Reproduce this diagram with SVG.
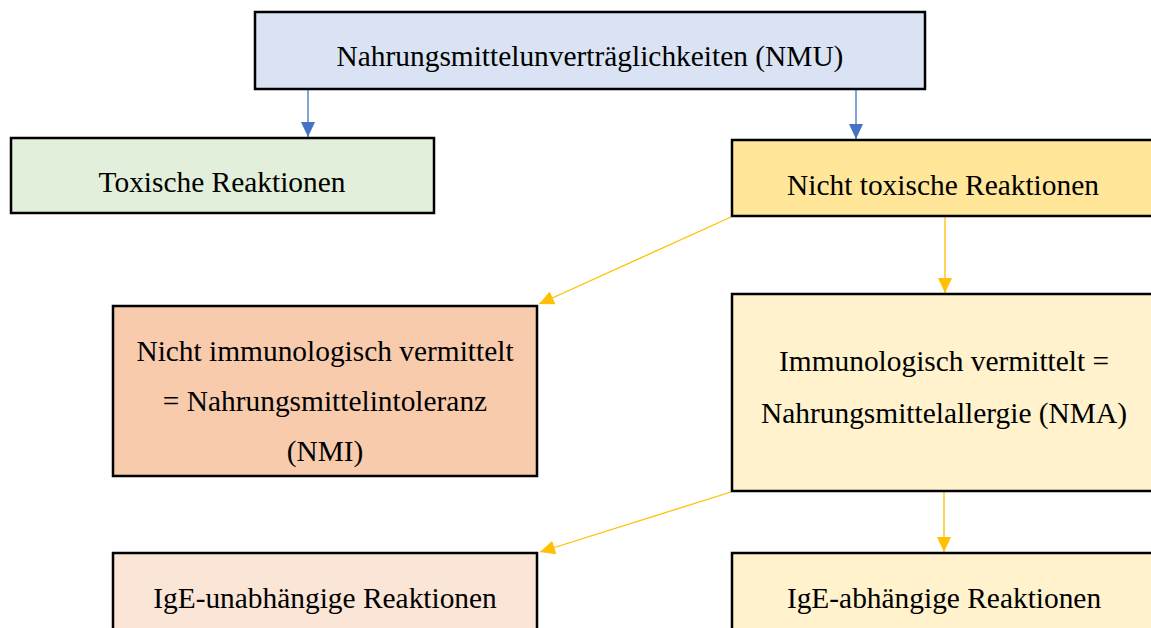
<svg xmlns="http://www.w3.org/2000/svg" width="1151" height="628" viewBox="0 0 1151 628">
<style>
.box{stroke:#000;stroke-width:2.5}
.t{font-family:"Liberation Serif","Times New Roman",serif;font-size:29.4px;fill:#000;text-anchor:middle}
.cb{stroke:#4472C4;stroke-width:1.3;fill:none}
.cy{stroke:#FFC000;stroke-width:1.3;fill:none}
</style>
<defs>
<marker id="ab" markerUnits="userSpaceOnUse" markerWidth="15" markerHeight="14" refX="15" refY="7" orient="auto"><path d="M0,0 L15,7 L0,14 z" fill="#4472C4"/></marker>
<marker id="ay" markerUnits="userSpaceOnUse" markerWidth="15" markerHeight="14" refX="15" refY="7" orient="auto"><path d="M0,0 L15,7 L0,14 z" fill="#FFC000"/></marker>
</defs>
<rect width="1151" height="628" fill="#fff"/>
<g id="connectors">
<line class="cb" x1="308" y1="89" x2="308" y2="137" marker-end="url(#ab)"/>
<line class="cb" x1="856" y1="89" x2="856" y2="139" marker-end="url(#ab)"/>
<line class="cy" x1="731" y1="217" x2="539" y2="304" marker-end="url(#ay)"/>
<line class="cy" x1="945" y1="217" x2="945" y2="293" marker-end="url(#ay)"/>
<line class="cy" x1="731" y1="492" x2="540" y2="552" marker-end="url(#ay)"/>
<line class="cy" x1="944" y1="492" x2="944" y2="552" marker-end="url(#ay)"/>
</g>
<g id="nmu">
<rect class="box" x="255" y="12" width="670" height="77" fill="#DAE3F3"/>
<text class="t" x="590" y="66">Nahrungsmittelunverträglichkeiten (NMU)</text>
</g>
<g id="toxisch">
<rect class="box" x="11" y="138" width="423" height="75" fill="#E2EFDA"/>
<text class="t" x="222" y="192">Toxische Reaktionen</text>
</g>
<g id="nichttoxisch">
<rect class="box" x="732" y="140" width="440" height="76" fill="#FFE699"/>
<text class="t" x="943" y="195">Nicht toxische Reaktionen</text>
</g>
<g id="nmi">
<rect class="box" x="113" y="306" width="424" height="170" fill="#F8CBAD"/>
<text class="t" x="325" y="361">Nicht immunologisch vermittelt</text>
<text class="t" x="325" y="411">= Nahrungsmittelintoleranz</text>
<text class="t" x="325" y="461">(NMI)</text>
</g>
<g id="nma">
<rect class="box" x="732" y="294" width="440" height="197" fill="#FFF2CC"/>
<text class="t" x="944" y="371">Immunologisch vermittelt =</text>
<text class="t" x="944" y="423">Nahrungsmittelallergie (NMA)</text>
</g>
<g id="igeunabh">
<rect class="box" x="113" y="553" width="424" height="100" fill="#FBE5D6"/>
<text class="t" x="325" y="608">IgE-unabhängige Reaktionen</text>
</g>
<g id="igeabh">
<rect class="box" x="732" y="553" width="440" height="100" fill="#FFF2CC"/>
<text class="t" x="944" y="608">IgE-abhängige Reaktionen</text>
</g>
</svg>
